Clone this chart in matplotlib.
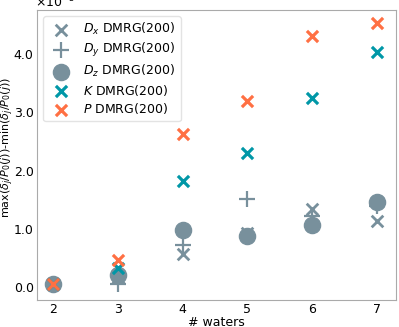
import numpy as np
import matplotlib
matplotlib.use('Agg')
from matplotlib import pyplot as plt

waters = [2, 3, 4, 5, 6, 7]
dx = [0.05, 0.17, 0.57, 0.93, 1.34, 1.13]
dy = [0.05, 0.05, 0.72, 1.51, 1.22, 1.40]
dz = [0.06, 0.21, 0.98, 0.87, 1.06, 1.46]
k = [0.05, 0.33, 1.82, 2.31, 3.24, 4.03]
p = [0.05, 0.46, 2.62, 3.19, 4.31, 4.53]

grey = '#78909c'
teal = '#0097a7'
orange = '#ff7043'

fig = plt.figure(figsize=(3.99, 3.27), dpi=100)
ax = fig.add_axes([0.093, 0.083, 0.9, 0.885])

scale = 1e-5
fs = 9
ax.scatter(waters, np.array(dx) * scale, marker='x', s=70, lw=2.0, color=grey, label=r'$D_x$ DMRG(200)')
ax.scatter(waters, np.array(dy) * scale, marker='+', s=130, lw=1.6, color=grey, label=r'$D_y$ DMRG(200)')
ax.scatter(waters, np.array(dz) * scale, marker='o', s=135, color=grey, label=r'$D_z$ DMRG(200)')
ax.scatter(waters, np.array(k) * scale, marker='x', s=65, lw=2.3, color=teal, label=r'$K$ DMRG(200)')
ax.scatter(waters, np.array(p) * scale, marker='x', s=65, lw=2.3, color=orange, label=r'$P$ DMRG(200)')

ax.set_xlim(1.75, 7.3)
ax.set_ylim(-0.22e-5, 4.75e-5)
ax.set_xticks(waters)
ax.set_yticks(np.arange(0, 5) * scale)
ax.yaxis.set_major_formatter(matplotlib.ticker.FuncFormatter(lambda v, pos: '%.1f' % (v / scale)))
ax.text(-0.005, 1.0, r'$\times10^{-5}$', transform=ax.transAxes, fontsize=fs, va='bottom')
ax.set_xlabel('# waters', fontsize=fs, labelpad=0)
ax.set_ylabel(r'max($\delta_j/P_0(j)$)-min($\delta_j/P_0(j)$)', fontsize=8)
ax.yaxis.set_label_coords(-0.06, 0.525)
ax.tick_params(labelsize=fs, length=0, pad=2.5)
for s in ax.spines.values():
    s.set_color('#aaaaaa')

ax.legend(loc='upper left', fontsize=fs, frameon=True, edgecolor='#dddddd', handletextpad=0.8,
          borderpad=0.4, labelspacing=0.3, borderaxespad=0, bbox_to_anchor=(0.017, 0.98))

fig.savefig('out.png', dpi=100)
